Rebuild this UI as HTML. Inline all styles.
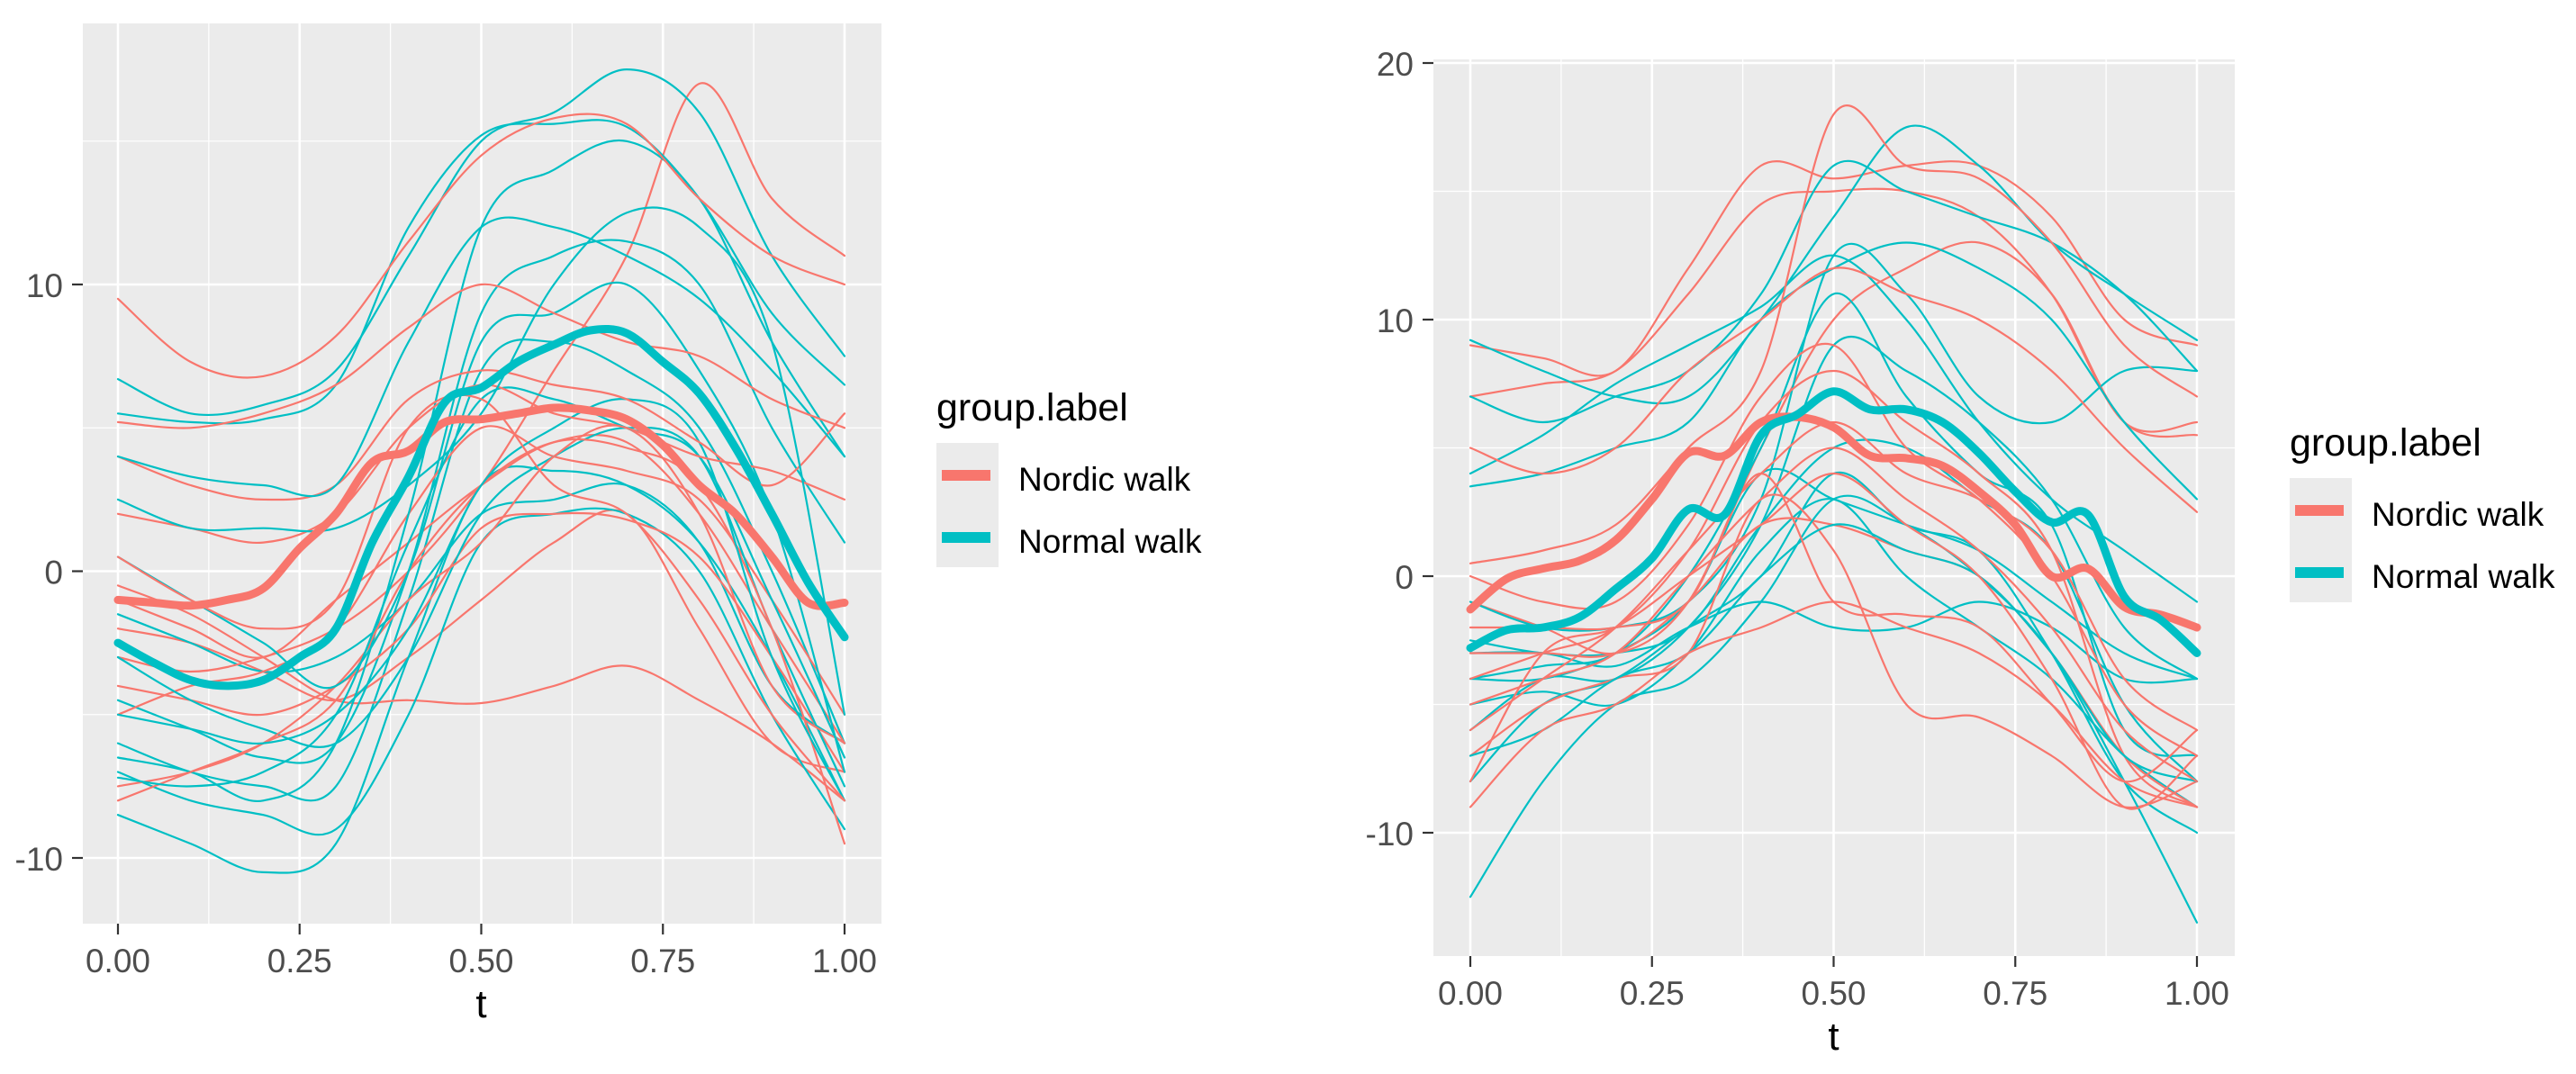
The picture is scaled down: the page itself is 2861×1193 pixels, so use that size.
<!DOCTYPE html>
<html><head><meta charset="utf-8">
<style>
html,body{margin:0;padding:0;background:#fff;}
svg{display:block;font-family:"Liberation Sans",Arial,sans-serif;}
</style></head>
<body>
<svg id="chart" width="2861" height="1193" viewBox="0 0 2861 1193" xmlns="http://www.w3.org/2000/svg"></svg>
<script>
// ---------- data ----------
const xTicks = [0, 0.25, 0.5, 0.75, 1.0];
const xTickLabels = ["0.00", "0.25", "0.50", "0.75", "1.00"];
const leftYTicks = [-10, 0, 10];
const rightYTicks = [-10, 0, 10, 20];
const groups = ["Nordic walk", "Normal walk"];

const leftMeanNordic = [-1.0,-1.1,-1.2,-1.0,-0.6,0.8,2.0,3.8,4.2,5.2,5.3,5.5,5.7,5.6,5.3,4.4,3.0,2.0,0.5,-1.1,-1.1];
const leftMeanNormal = [-2.5,-3.2,-3.8,-4.0,-3.8,-3.0,-2.0,1.0,3.3,5.9,6.4,7.3,7.9,8.4,8.3,7.3,6.2,4.3,2.0,-0.4,-2.3];
const rightMeanNordic = [-1.3,-0.1,0.3,0.6,1.4,3.0,4.8,4.7,6.0,6.2,5.8,4.7,4.6,4.3,3.3,2.0,0.0,0.3,-1.2,-1.5,-2.0];
const rightMeanNormal = [-2.8,-2.1,-2.0,-1.6,-0.5,0.7,2.6,2.4,5.5,6.3,7.2,6.5,6.5,6.0,4.8,3.3,2.1,2.4,-0.8,-1.7,-3.0];

const leftNordic = [
 [9.5,7.3,6.8,8.2,11.5,14.5,15.8,15.6,13,11,10],
 [-3,-3.5,-3,-2,0,3,7,11,17,13,11],
 [5.2,5,5.5,6.5,8.5,10,9,8,7.5,6,5],
 [2,1.5,1,2,5,6.5,5.5,5,4,3.5,2.5],
 [-1,-2,-3,-1,1,3,4.5,4.5,2,-2,-6],
 [-0.5,-1.5,-3,-4.5,-4.5,-4.6,-4,-3.3,-4.5,-6,-8],
 [-4,-4.5,-5,-4,-2,1.5,2,1.8,0.5,-3,-7],
 [-8,-7,-6,-4.5,0,3,4.5,4.3,3,-2,-9.5],
 [-7.5,-7,-6,-4,-1,1,4,5,2,-4,-6],
 [0.5,-1,-2,-1,5,6,3,2,-1,-5,-8],
 [-2,-2.5,-3.5,-4.5,-3,-1,1,2,-2,-6,-7],
 [-5,-4,-3.5,-2,2,5,4,3.5,2.5,-1,-5],
 [4,3,2.5,3,6,7,6.5,6,4.5,3,5.5]
];
const leftNormal = [
 [6.7,5.5,5.8,7,11,15,16,17.5,16,11,7.5],
 [5.5,5.2,5.3,6.5,12,15.2,15.6,15.5,13,9,6.5],
 [4,3.3,3,3,8,12,12,11,9.5,7,4],
 [2.5,1.5,1.5,1.5,3,5.5,10,12.5,12,8,-5],
 [0.5,-1,-2.5,-4,0,8,9,10,7,2,-7],
 [-3,-4.5,-5.5,-6,-3,2,4,5,4,-2,-7.5],
 [-5,-5.5,-6,-5,-2,3,5,6,4.5,-3,-8],
 [-7,-8,-8.5,-9,-5,1,2,2,0,-5,-9],
 [-8.5,-9.5,-10.5,-9.5,-3,3,3.5,3,1,-3,-8],
 [-6,-7,-7.5,-7.5,-1,7,8,7,5,0,-6],
 [-4.5,-5.5,-6.5,-6,0,9,11,11.5,10,5,1],
 [-7.2,-7.5,-7,-5,1,6,6,5,4,-1,-6.5],
 [-1.5,-2.5,-3.5,-3,-1,2,2.5,3,1,-4,-6],
 [-6.5,-7,-8,-6,2,12,14,15,13,8,4]
];
const rightNordic = [
 [0.5,1,2,5,8,18,16,15.5,13,9,7],
 [9,8.5,8,12,16,15.5,16,16,14,10,9],
 [7,7.5,8,11,14.5,15,15,14,11,6,6],
 [5,4,5,8,10,12,11,10,8,5,2.5],
 [-1,-2,-3,-1,5,10,12,13,11,6,5.5],
 [-4,-3,-2,1,6,8,6,4,1,-7,-9],
 [-9,-6,-5,-3,-2,-1,-2,-3,-5,-8,-9],
 [-7,-5,-4,-3,3,1,-5,-5.5,-7,-9,-8],
 [-3,-3,-3,-1,2,2,1,0,-3,-7,-9],
 [-5,-4,-3,0,3,5,3,1,-2,-6,-8],
 [-8,-3,-2,0,2,4,2,0,-4,-9,-7],
 [-2,-2,-2,-1,4,-1,-1.5,-2,-5,-8,-6],
 [0,-1,-1,2,7,9,5,3,0,-5,-7],
 [-6,-4,-2,1,4,6,4,3,1,-4,-6]
];
const rightNormal = [
 [9.2,8,7,7,10,14,17.5,16,13,11,9.2],
 [7,6,7,8,11,16,15,14,13,11,8],
 [4,5.5,7.5,9,10.5,12.5,10,6,3,1,-1],
 [3.5,4,5,6,10,12,13,12,10,6,3],
 [-3,-3,-3.5,-2,-1,-2,-2,-1,-2,-4,-4],
 [-4,-4,-3,-1,4,3,2,1,-1,-3,-4],
 [-12.5,-8,-5,-4,-1,3,2,0,-3,-8,-13.5],
 [-8,-5,-4,-2,0,4,2,1,-3,-8,-10],
 [-2.5,-3,-3,-2,2,5,5,3,1,-5,-8],
 [-5,-4.5,-5,-3,1,3,0,-2,-4,-7,-9],
 [-6,-4,-4,-2,2,9,8,6,3,-2,-4],
 [-4,-3.5,-3,0,5,11,7,4,2,-6,-7],
 [-7,-6,-4,-3,0,2,1,0,-3,-7,-8],
 [-1,-2,-2,-1,3,12.5,11,7,6,8,8]
];

// ---------- rendering ----------
const NS = "http://www.w3.org/2000/svg";
const svg = document.getElementById("chart");
const RED = "#F8766D", CYAN = "#00BFC4";

function mk(tag, attrs, parent) {
  const e = document.createElementNS(NS, tag);
  for (const k in attrs) e.setAttribute(k, attrs[k]);
  (parent || svg).appendChild(e);
  return e;
}

function smoothPath(pts) {
  let d = "M" + pts[0][0].toFixed(1) + "," + pts[0][1].toFixed(1);
  for (let i = 0; i < pts.length - 1; i++) {
    const p0 = pts[Math.max(0, i - 1)], p1 = pts[i], p2 = pts[i + 1], p3 = pts[Math.min(pts.length - 1, i + 2)];
    const c1x = p1[0] + (p2[0] - p0[0]) / 6, c1y = p1[1] + (p2[1] - p0[1]) / 6;
    const c2x = p2[0] - (p3[0] - p1[0]) / 6, c2y = p2[1] - (p3[1] - p1[1]) / 6;
    d += "C" + c1x.toFixed(1) + "," + c1y.toFixed(1) + " " + c2x.toFixed(1) + "," + c2y.toFixed(1) + " " + p2[0].toFixed(1) + "," + p2[1].toFixed(1);
  }
  return d;
}

function panel(cfg) {
  const g = mk("g", {});
  
  
  const xs = t => cfg.x0 + (cfg.x1 - cfg.x0) * t;
  const ys = v => cfg.y0 + (v - cfg.v0) * (cfg.y1 - cfg.y0) / (cfg.v1 - cfg.v0);
  const bg = mk("rect", {x: cfg.L, y: cfg.T, width: cfg.R - cfg.L, height: cfg.B - cfg.T, fill: "#EBEBEB"}, g);
  
  
  for (let i = 0; i < xTicks.length - 1; i++) {
    const x = xs((xTicks[i] + xTicks[i + 1]) / 2);
    mk("line", {x1: x, x2: x, y1: cfg.T, y2: cfg.B, stroke: "#fff", "stroke-width": 1.3}, g);
  }
  const yt = cfg.yTicks;
  const minors = [];
  for (let i = 0; i < yt.length - 1; i++) minors.push((yt[i] + yt[i + 1]) / 2);
  minors.push(yt[0] - 5); minors.push(yt[yt.length - 1] + 5);
  minors.forEach(v => {
    const y = ys(v);
    if (y > cfg.T && y < cfg.B) mk("line", {x1: cfg.L, x2: cfg.R, y1: y, y2: y, stroke: "#fff", "stroke-width": 1.3}, g);
  });
  xTicks.forEach((t, i) => {
    const x = xs(t);
    mk("line", {x1: x, x2: x, y1: cfg.T, y2: cfg.B, stroke: "#fff", "stroke-width": 2.6}, g);
    mk("line", {x1: x, x2: x, y1: cfg.B, y2: cfg.B + 12, stroke: "#333", "stroke-width": 2.2}, g);
    const tx = mk("text", {x: x, y: cfg.B + 54, "font-size": 37, fill: "#4D4D4D", "text-anchor": "middle"}, g);
    tx.textContent = xTickLabels[i];
    
    
  });
  yt.forEach(v => {
    const y = ys(v);
    mk("line", {x1: cfg.L, x2: cfg.R, y1: y, y2: y, stroke: "#fff", "stroke-width": 2.6}, g);
    mk("line", {x1: cfg.L - 12, x2: cfg.L, y1: y, y2: y, stroke: "#333", "stroke-width": 2.2}, g);
    const tx = mk("text", {x: cfg.L - 22, y: y + 14, "font-size": 37, fill: "#4D4D4D", "text-anchor": "end"}, g);
    tx.textContent = String(v);
    
    
  });
  const xt = mk("text", {x: xs(0.5), y: cfg.B + 104, "font-size": 44, fill: "#000", "text-anchor": "middle"}, g);
  xt.textContent = "t";
  
  
  const clipId = cfg.name + "-clip";
  const cp = mk("clipPath", {id: clipId}, g);
  mk("rect", {x: cfg.L, y: cfg.T, width: cfg.R - cfg.L, height: cfg.B - cfg.T}, cp);
  const cg = mk("g", {"clip-path": "url(#" + clipId + ")"}, g);
  function draw(arr, color, w, name) {
    const n = arr.length;
    const pts = arr.map((v, i) => [xs(i / (n - 1)), ys(v)]);
    const p = mk("path", {d: smoothPath(pts), fill: "none", stroke: color, "stroke-width": w, "stroke-linejoin": "round", "stroke-linecap": "round"}, cg);
    
    
  }
  const all = [];
  cfg.nordic.forEach(a => all.push([a, RED]));
  cfg.normal.forEach(a => all.push([a, CYAN]));
  all.sort((a, b) => (a[0][0] * 7 + a[0][3]) % 5 - (b[0][0] * 7 + b[0][3]) % 5);
  all.forEach(a => draw(a[0], a[1], 2.2, a[1] === RED ? "nordic-curve" : "normal-curve"));
  draw(cfg.meanNordic, RED, 9, "nordic-mean-curve");
  draw(cfg.meanNormal, CYAN, 9, "normal-mean-curve");
  const lg = mk("g", {}, g);
  
  
  const lt = mk("text", {x: cfg.lx, y: cfg.ly, "font-size": 43, fill: "#000"}, lg);
  lt.textContent = "group.label";
  
  
  mk("rect", {x: cfg.lx, y: cfg.ly + 25, width: 69, height: 138, fill: "#EBEBEB"}, lg);
  [[RED, groups[0]], [CYAN, groups[1]]].forEach((e, i) => {
    const yy = cfg.ly + 61 + i * 69;
    const k = mk("rect", {x: cfg.lx + 6, y: yy - 6, width: 54, height: 12, fill: e[0]}, lg);
    
    
    const tx = mk("text", {x: cfg.lx + 91, y: yy + 17, "font-size": 37, fill: "#000"}, lg);
    tx.textContent = e[1];
    
    
  });
}

panel({name: "left-panel", L: 92, R: 979, T: 26, B: 1026, x0: 131, x1: 938, y0: 953, y1: 316, v0: -10, v1: 10,
  yTicks: leftYTicks, nordic: leftNordic, normal: leftNormal, meanNordic: leftMeanNordic, meanNormal: leftMeanNormal,
  lx: 1040, ly: 467});
panel({name: "right-panel", L: 1592, R: 2482, T: 66, B: 1062, x0: 1633, x1: 2440, y0: 925, y1: 355, v0: -10, v1: 10,
  yTicks: rightYTicks, nordic: rightNordic, normal: rightNormal, meanNordic: rightMeanNordic, meanNormal: rightMeanNormal,
  lx: 2543, ly: 506});
</script>
</body></html>
